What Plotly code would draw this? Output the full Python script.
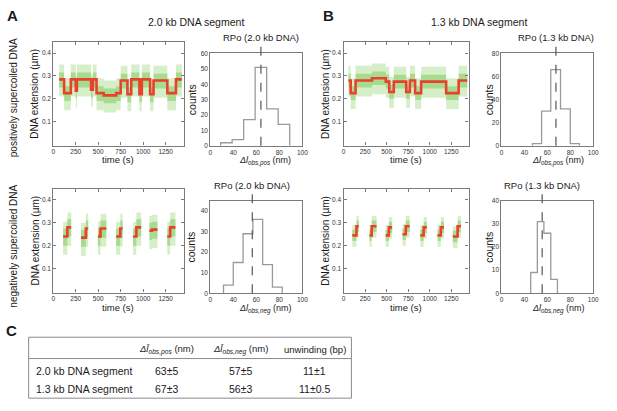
import plotly.graph_objects as go

W, H = 617, 411
FONT = "Liberation Sans, Arial, sans-serif"

# ---------------- data ----------------
# positively supercoiled, 2.0 kb: dwell segments (s) and mean extension (um)
A_pos_start = [65, 120, 195, 250, 262, 420, 440, 481, 560, 700, 750, 825, 867, 958, 985, 1077, 1115, 1269, 1365]
A_pos_end = [120, 195, 250, 262, 420, 440, 481, 560, 700, 750, 825, 867, 958, 985, 1077, 1115, 1269, 1365, 1430]
A_pos_level = [0.285, 0.225, 0.285, 0.235, 0.285, 0.24, 0.285, 0.225, 0.215, 0.225, 0.28, 0.22, 0.285, 0.22,
               0.285, 0.22, 0.28, 0.225, 0.285]

# positively supercoiled, 1.3 kb
B_pos_start = [57, 83, 140, 330, 490, 530, 583, 727, 770, 830, 900, 1190, 1335]
B_pos_end = [83, 140, 330, 490, 530, 583, 727, 770, 830, 900, 1190, 1335, 1435]
B_pos_level = [0.28, 0.225, 0.28, 0.29, 0.275, 0.23, 0.275, 0.23, 0.28, 0.225, 0.275, 0.225, 0.28]

# negatively supercoiled, 2.0 kb: (low state start, switch, high state end)
A_neg_low_start = [109, 308, 496, 699, 888, 1069, 1268]
A_neg_switch = [156, 362, 525, 745, 924, 1098, 1300]
A_neg_high_end = [199, 388, 590, 772, 978, 1159, 1359]
A_neg_low = [0.24, 0.235, 0.24, 0.24, 0.24, 0.265, 0.24]
A_neg_high = [0.28, 0.275, 0.275, 0.275, 0.28, 0.27, 0.28]

# negatively supercoiled, 1.3 kb
B_neg_low_start = [102, 301, 489, 684, 891, 1090, 1267]
B_neg_switch = [150, 327, 526, 722, 929, 1128, 1323]
B_neg_high_end = [177, 383, 564, 767, 966, 1165, 1361]
B_neg_low = [0.245, 0.245, 0.245, 0.25, 0.245, 0.245, 0.24]
B_neg_high = [0.285, 0.285, 0.28, 0.285, 0.28, 0.28, 0.285]

# histograms of delta l (nm)
A_pos_edges = [29, 39, 49, 59, 69, 79, 89]
A_pos_counts = [2, 4, 17, 51, 24, 14]
B_pos_edges = [47, 55, 63, 71.5, 80, 88]
B_pos_counts = [2, 30, 66, 32, 2]
A_neg_edges = [31.5, 40, 48.5, 57, 65.5, 74, 82.5]
A_neg_counts = [4, 15, 29, 36, 14, 3]
B_neg_edges = [45.5, 51.3, 57, 63, 68.8]
B_neg_counts = [9, 31, 26, 6]

A_pos_mean, B_pos_mean, A_neg_mean, B_neg_mean = 64, 67.5, 56.5, 55.5

time_ticks = [0, 250, 500, 750, 1000, 1250]
ext_ticks = [0.1, 0.2, 0.3, 0.4]
hist_x_ticks = [20, 40, 60, 80, 100]
hist_x_text = ["0", "40", "60", "80", "100"]

table_header = ["<i>Δl̄</i><sub><i>obs,pos</i></sub> (nm)", "<i>Δl̄</i><sub><i>obs,neg</i></sub> (nm)",
                "unwinding (bp)"]
table_rows = ["2.0 kb DNA segment", "1.3 kb DNA segment"]
table_pos = ["63±5", "67±3"]
table_neg = ["57±5", "56±3"]
table_unw = ["11±1", "11±0.5"]

# ---------------- helpers ----------------
def px(x):
    return x / W


def py(y):
    return 1 - y / H


def pairs_to_segments(ls, sw, he, lo, hi):
    s, e, lv = [], [], []
    for a, b, c, l1, l2 in zip(ls, sw, he, lo, hi):
        s += [a, b]
        e += [b, c]
        lv += [l1, l2]
    return s, e, lv


def band(starts, ends, levels, dn, up):
    xs, ys = [], []
    for s, e, l in zip(starts, ends, levels):
        xs += [s, e, e, s, s, None]
        ys += [l - dn, l - dn, l + up, l + up, l - dn, None]
    return xs, ys


def steps(starts, ends, levels):
    xs, ys = [], []
    prev_end = None
    for s, e, l in zip(starts, ends, levels):
        if prev_end is not None and abs(prev_end - s) > 1e-9:
            xs.append(None)
            ys.append(None)
        xs += [s, e]
        ys += [l, l]
        prev_end = e
    return xs, ys


fig = go.Figure()


def add_trace_panel(k, starts, ends, levels, outer, inner):
    ax = "" if k == 1 else str(k)
    xo, yo = band(starts, ends, levels, outer[0], outer[1])
    fig.add_trace(go.Scatter(x=xo, y=yo, mode="lines", fill="toself", line=dict(width=0),
                             fillcolor="rgba(165,220,135,0.45)", xaxis="x" + ax, yaxis="y" + ax,
                             hoverinfo="skip", showlegend=False))
    xi, yi = band(starts, ends, levels, inner[0], inner[1])
    fig.add_trace(go.Scatter(x=xi, y=yi, mode="lines", fill="toself", line=dict(width=0),
                             fillcolor="rgba(120,200,85,0.5)", xaxis="x" + ax, yaxis="y" + ax,
                             hoverinfo="skip", showlegend=False))
    xr, yr = steps(starts, ends, levels)
    fig.add_trace(go.Scatter(x=xr, y=yr, mode="lines", line=dict(color="#e8412c", width=2.6),
                             xaxis="x" + ax, yaxis="y" + ax, showlegend=False))


def add_hist_panel(k, edges, counts):
    ax = str(k)
    fig.add_trace(go.Scatter(x=[edges[0]] + edges, y=[0] + counts + [0], mode="lines",
                             line=dict(color="#9a9a9a", width=1.3, shape="hv"),
                             xaxis="x" + ax, yaxis="y" + ax, showlegend=False))


add_trace_panel(1, A_pos_start, A_pos_end, A_pos_level, (0.075, 0.065), (0.035, 0.03))
add_hist_panel(2, A_pos_edges, A_pos_counts)
add_trace_panel(3, B_pos_start, B_pos_end, B_pos_level, (0.07, 0.065), (0.03, 0.03))
add_hist_panel(4, B_pos_edges, B_pos_counts)
sA = pairs_to_segments(A_neg_low_start, A_neg_switch, A_neg_high_end, A_neg_low, A_neg_high)
add_trace_panel(5, *sA, (0.08, 0.065), (0.04, 0.035))
add_hist_panel(6, A_neg_edges, A_neg_counts)
sB = pairs_to_segments(B_neg_low_start, B_neg_switch, B_neg_high_end, B_neg_low, B_neg_high)
add_trace_panel(7, *sB, (0.05, 0.045), (0.025, 0.025))
add_hist_panel(8, B_neg_edges, B_neg_counts)

# ---------------- axes ----------------
tickfont = dict(family=FONT, size=6.5, color="#333")
base = dict(showline=True, mirror="allticks", linecolor="#7a7a7a", linewidth=1.2, showgrid=False,
            zeroline=False, ticks="inside", ticklen=3, tickcolor="#7a7a7a", tickfont=tickfont)

sc_x = {"A": (52, 184), "B": (346, 472.7)}
hi_x = {"A": (211, 304.3), "B": (506, 599)}
sc_y = {"top": (38.4, 144), "bot": (187.7, 293.5)}
hi_y = {"top": (50.3, 144.3), "bot": (200.3, 294.3)}

layout = {}
panels = [
    (1, "sc", "A", "top", None), (2, "hi", "A", "top", [0, 60, 10]),
    (3, "sc", "B", "top", None), (4, "hi", "B", "top", [0, 80, 20]),
    (5, "sc", "A", "bot", None), (6, "hi", "A", "bot", [0, 45, 10]),
    (7, "sc", "B", "bot", None), (8, "hi", "B", "bot", [0, 40, 10]),
]
for k, kind, col, row, yr in panels:
    xk = "xaxis" if k == 1 else f"xaxis{k}"
    yk = "yaxis" if k == 1 else f"yaxis{k}"
    xa = "x" if k == 1 else f"x{k}"
    ya = "y" if k == 1 else f"y{k}"
    if kind == "sc":
        x0, x1 = sc_x[col]
        y0, y1 = sc_y[row]
        layout[xk] = dict(base, domain=[px(x0), px(x1)], range=[0, 1450], tickvals=time_ticks, anchor=ya)
        layout[yk] = dict(base, domain=[py(y1), py(y0)], range=[-0.005, 0.45], tickvals=ext_ticks,
                          tickformat=".1f", anchor=xa)
    else:
        x0, x1 = hi_x[col]
        y0, y1 = hi_y[row]
        layout[xk] = dict(base, domain=[px(x0), px(x1)], range=[20, 100], tickvals=hist_x_ticks,
                          ticktext=hist_x_text, anchor=ya, ticks="", mirror=True)
        layout[yk] = dict(base, domain=[py(y1), py(y0)], range=[yr[0], yr[1]], dtick=yr[2], tick0=0,
                          anchor=xa, ticks="", mirror=True)

fig.update_layout(**layout)

# ---------------- annotations ----------------
anns = []


def ann(text, x, y, size, xanchor="center", yanchor="middle", angle=0):
    anns.append(dict(text=text, x=px(x), y=py(y), xref="paper", yref="paper", showarrow=False,
                     xanchor=xanchor, yanchor=yanchor, textangle=angle,
                     font=dict(family=FONT, size=size, color="#1a1a1a")))


ann("<b>A</b>", 3, 12, 15, xanchor="left")
ann("<b>B</b>", 323, 12, 15, xanchor="left")
ann("<b>C</b>", 2, 332, 15, xanchor="left")
ann("2.0 kb DNA segment", 197, 18, 10.5)
ann("1.3 kb DNA segment", 483, 18, 10.5)
ann("positively supercoiled DNA", 12, 95, 10, angle=-90)
ann("negatively supercoiled DNA", 12, 246, 10, angle=-90)
for col, dx in (("A", 33.5), ("B", 327.5)):
    for row in ("top", "bot"):
        yc = sum(sc_y[row]) / 2
        ann("DNA extension (µm)", dx, yc, 10, angle=-90)
        ann("time (s)", sum(sc_x[col]) / 2, 158.5 if row == "top" else 308.5, 9.5)
for col, dx in (("A", 192), ("B", 493)):
    for row in ("top", "bot"):
        ann("counts", dx, sum(hi_y[row]) / 2, 10.5, angle=-90)
hist_titles = {"top": "<i>Δl</i><sub><i>obs,pos</i></sub> (nm)", "bot": "<i>Δl</i><sub><i>obs,neg</i></sub> (nm)"}
for col, cx in (("A", 266), ("B", 563)):
    for row in ("top", "bot"):
        ann(hist_titles[row], cx, 160 if row == "top" else 310.5, 9)

shapes = []
for k, mean, label, row in ((2, A_pos_mean, "RPo (2.0 kb DNA)", "top"),
                            (4, B_pos_mean, "RPo (1.3 kb DNA)", "top"),
                            (6, A_neg_mean, "RPo (2.0 kb DNA)", "bot"),
                            (8, B_neg_mean, "RPo (1.3 kb DNA)", "bot")):
    ytop = 41 if row == "top" else 191
    shapes.append(dict(type="line", xref=f"x{k}", yref="paper", x0=mean, x1=mean,
                       y0=py(hi_y[row][1]), y1=py(ytop), line=dict(color="#555", width=1.2, dash="dash")))
    anns.append(dict(text=label, x=mean, xref=f"x{k}", y=py(34 if row == "top" else 184.5), yref="paper",
                     showarrow=False, xanchor="center", yanchor="middle",
                     font=dict(family=FONT, size=9.5, color="#1a1a1a")))

# table
shapes.append(dict(type="rect", xref="paper", yref="paper", x0=px(27), x1=px(354), y0=py(401), y1=py(339),
                   line=dict(color="#8a8a8a", width=1)))
shapes.append(dict(type="line", xref="paper", yref="paper", x0=px(27), x1=px(354), y0=py(360.7), y1=py(360.7),
                   line=dict(color="#8a8a8a", width=1)))
col_x = [167, 242, 317]
for cx, h in zip(col_x, table_header):
    ann(h, cx, 351.5, 9.5)
for i, (r, a, b, c) in enumerate(zip(table_rows, table_pos, table_neg, table_unw)):
    yy = 373 + i * 18.7
    ann(r, 32, yy, 10.5, xanchor="left")
    ann(a, col_x[0], yy, 10.5)
    ann(b, col_x[1], yy, 10.5)
    ann(c, col_x[2], yy, 10.5)

fig.update_layout(width=W, height=H, margin=dict(l=0, r=0, t=0, b=0), paper_bgcolor="white",
                  plot_bgcolor="white", annotations=anns, shapes=shapes, showlegend=False,
                  font=dict(family=FONT))

fig.write_html("out.html", config={"displayModeBar": False},
               post_script="document.body.style.margin='0';")
